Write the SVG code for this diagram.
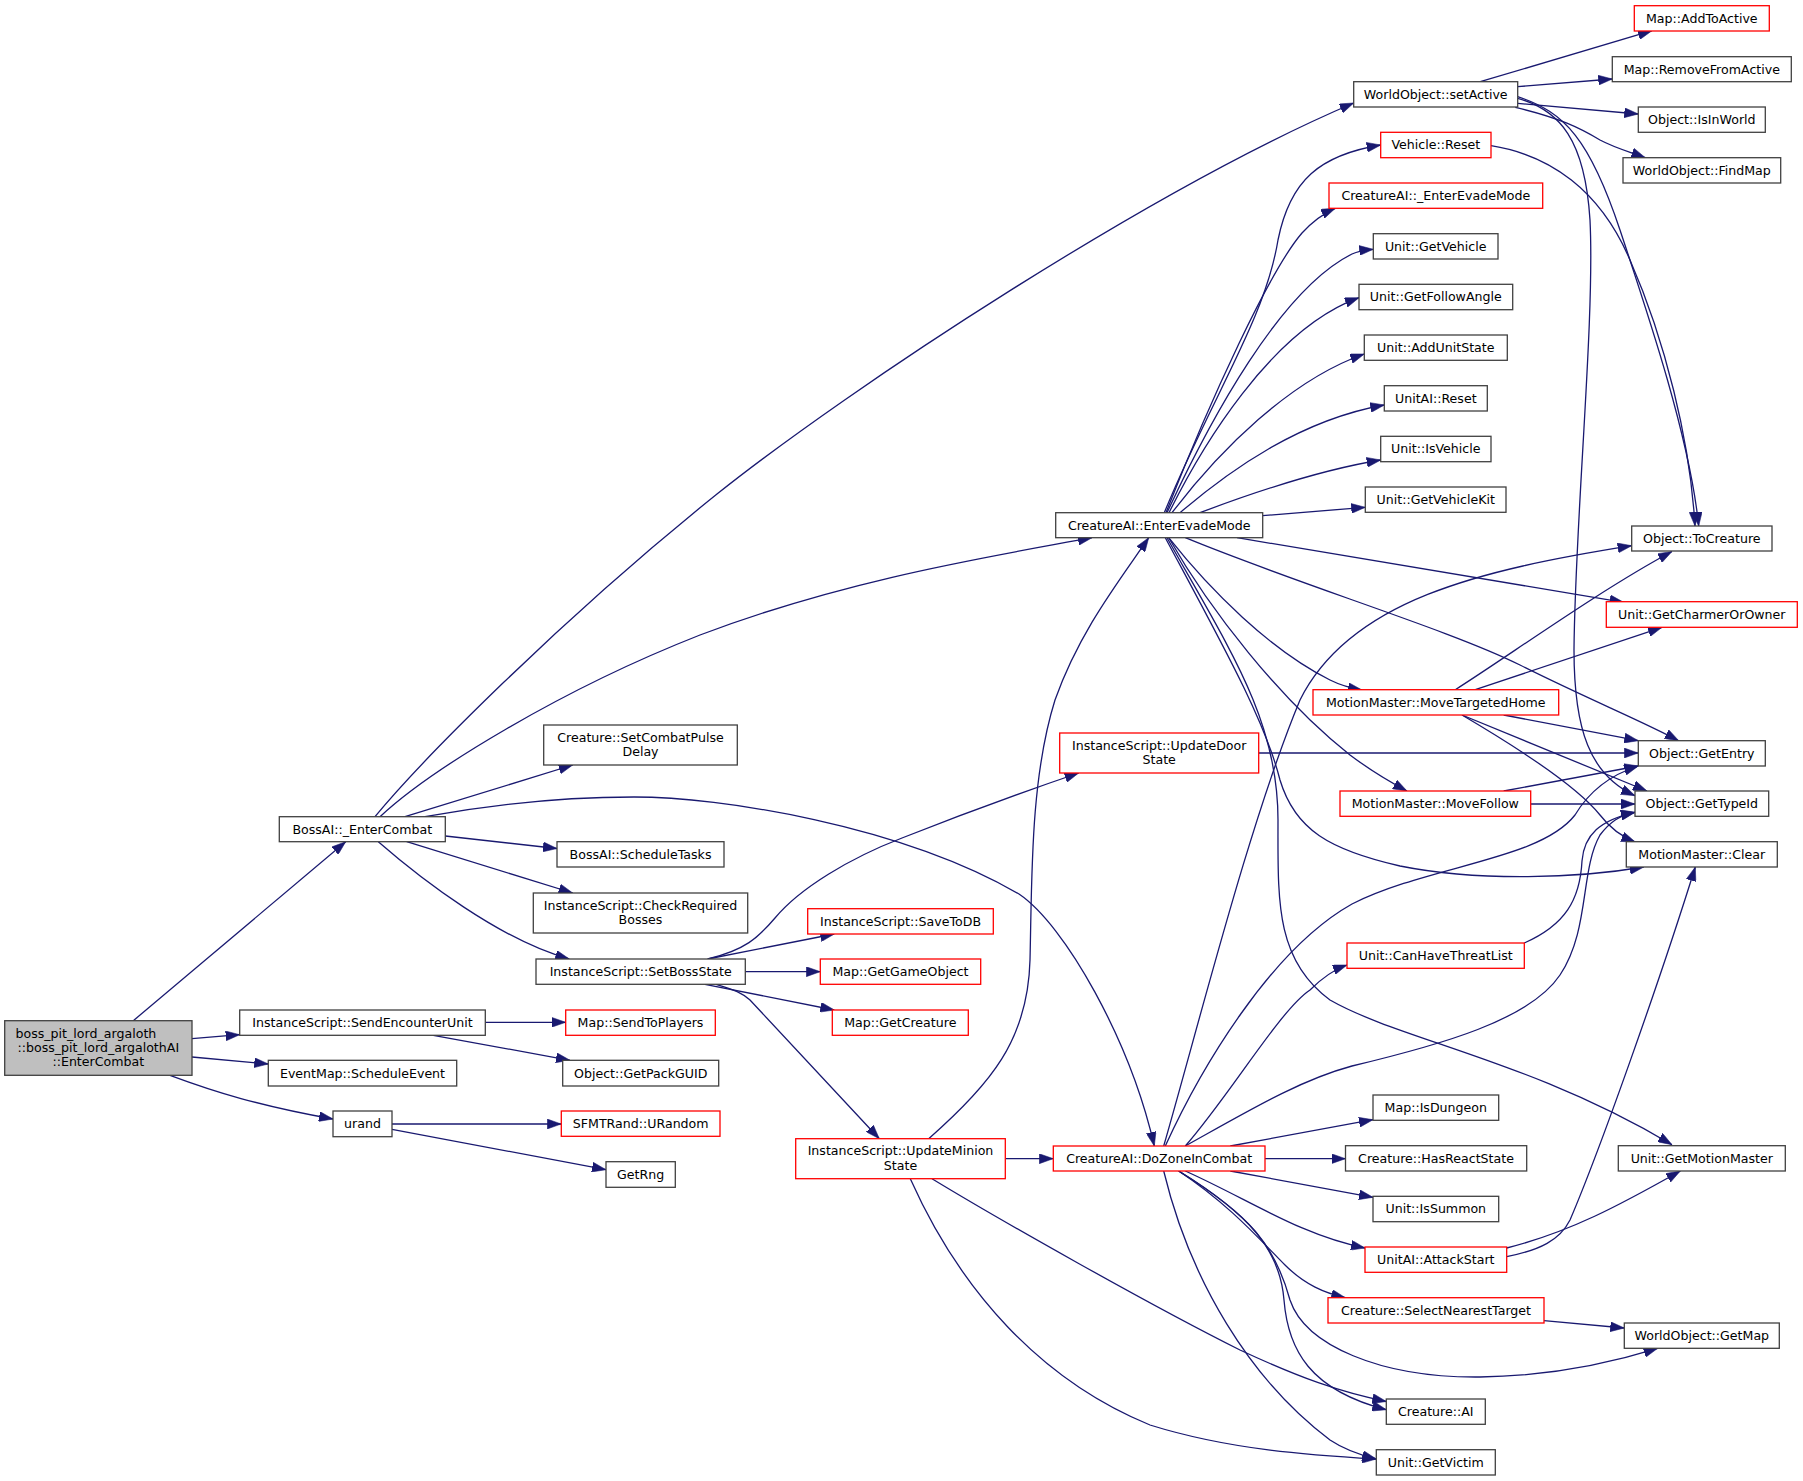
<svg xmlns="http://www.w3.org/2000/svg" width="1803" height="1481" viewBox="0 0 1803 1481">
<style>
.n rect{fill:#ffffff;stroke:#404040;stroke-width:1.3}
.n.r rect{stroke:#ff0000}
.n.root rect{fill:#bfbfbf}
text{font-family:"DejaVu Sans","Liberation Sans",sans-serif;font-size:12.6px;text-anchor:middle;fill:#000}
.e path{fill:none;stroke:#191970;stroke-width:1.3;marker-end:url(#arr)}
</style>
<defs>
<marker id="arr" markerUnits="userSpaceOnUse" markerWidth="14" markerHeight="10" viewBox="0 0 13.3 9.4" refX="13.3" refY="4.7" orient="auto">
<path d="M0,0 L13.3,4.7 L0,9.4 z" fill="#191970" stroke="#191970" stroke-width="0.5"/>
</marker>
</defs>
<rect x="0" y="0" width="1803" height="1481" fill="#ffffff"/>
<g id="edges" class="e">
<path d="M133.3,1020.7 L345.7,841.7"/>
<path d="M192,1038.7 L239.7,1034.7"/>
<path d="M192,1057 L268.3,1064"/>
<path d="M170,1075.3 C215,1092 260,1106 333,1119"/>
<path d="M485.3,1022.3 L565.7,1022.3"/>
<path d="M433.3,1035.3 L570,1060.3"/>
<path d="M392,1124 L561.3,1124"/>
<path d="M392,1129.3 L606,1169.7"/>
<path d="M375,816.7 C420,762 560,620 717,494 C850,388 1150,190 1353.7,103"/>
<path d="M380,816.7 C430,770 560,690 700,635 C850,578 1000,555 1092,537.7"/>
<path d="M405,816.7 L572.7,765"/>
<path d="M425,816.7 C500,803 570,797 634,797 C720,797 900,825 1019,894 C1065,925 1130,1040 1154.3,1146"/>
<path d="M445.3,836 L557,848.5"/>
<path d="M406.7,841.7 L572.7,893"/>
<path d="M378.3,841.7 C420,878 500,940 569.3,959"/>
<path d="M707.7,959 L834.3,934"/>
<path d="M745.3,971.7 L820.3,971.7"/>
<path d="M705,984.3 L834.3,1010"/>
<path d="M716,984.3 C735,990 742,993 750,1000 L879.3,1138.7"/>
<path d="M707.7,959 C745,950 758,938 775,918 C800,888 850,858 902,838 C960,815 1020,793 1078.7,773"/>
<path d="M1005.3,1158.7 L1053.3,1158.7"/>
<path d="M928.7,1138.7 C990,1085 1028,1040 1030,960 C1032,880 1030,780 1055,700 C1080,630 1120,580 1148.7,537.7"/>
<path d="M932,1178.7 C1000,1220 1150,1305 1240,1350 C1300,1378 1340,1392 1386.3,1401.5"/>
<path d="M910.3,1178.7 C960,1290 1040,1380 1150,1425 C1230,1450 1310,1455 1376.3,1459"/>
<path d="M1258.7,753 L1638.3,753"/>
<path d="M1164.3,512.7 C1210,400 1265,320 1278,240 C1290,180 1320,155 1380.7,145"/>
<path d="M1166,512.7 C1210,400 1270,270 1302,233 C1312,222 1322,214 1335.3,208.3"/>
<path d="M1167,512.7 C1210,420 1280,290 1352,254 C1358,251 1365,250 1373.3,249.3"/>
<path d="M1169,512.7 C1200,450 1270,330 1359,297.7"/>
<path d="M1172,512.7 C1220,450 1290,380 1364.3,354"/>
<path d="M1180,512.7 C1230,470 1300,420 1384.3,405"/>
<path d="M1200,512.7 C1260,490 1320,470 1380.7,460"/>
<path d="M1262.7,515.7 L1365.3,507.3"/>
<path d="M1237,537.7 L1623.7,602.3"/>
<path d="M1185.3,537.7 C1300,585 1450,630 1520,665 C1590,700 1640,720 1678.7,740.7"/>
<path d="M1168.7,537.7 C1210,590 1270,650 1330,680 C1340,685 1350,688 1362,690"/>
<path d="M1168.7,537.7 C1210,610 1280,700 1350,755 C1370,770 1390,782 1407,791"/>
<path d="M1165.3,537.7 C1220,640 1265,720 1280,780 C1295,830 1330,850 1400,866 C1480,882 1580,878 1643.7,867"/>
<path d="M1167,537.7 C1230,650 1278,720 1278,820 C1278,900 1275,960 1330,1000 C1400,1040 1530,1060 1672,1144.7"/>
<path d="M1480.3,81.7 L1652,30.7"/>
<path d="M1517.7,86.7 L1612.3,79"/>
<path d="M1517.7,103.3 L1638.3,114"/>
<path d="M1515.3,107.3 C1560,118 1580,128 1600,140 C1615,148 1630,152 1645.3,157.7"/>
<path d="M1517.7,98.3 C1560,110 1585,140 1590,220 C1595,320 1575,520 1574,650 C1574,730 1590,775 1635,795.7"/>
<path d="M1517.7,96.7 C1565,112 1590,140 1620,230 C1650,320 1690,440 1698.7,526"/>
<path d="M1491,145.7 C1550,155 1600,190 1630,260 C1665,340 1690,440 1695,526"/>
<path d="M1455.3,689.7 C1510,655 1600,590 1672,551.5"/>
<path d="M1475.3,689.7 L1662,627.3"/>
<path d="M1503.7,715 L1638.3,740.7"/>
<path d="M1462,715 L1647,791"/>
<path d="M1462,715 C1530,755 1580,790 1600,815 C1610,828 1620,836 1635.3,842"/>
<path d="M1503.7,791 L1638.3,766"/>
<path d="M1530.7,804 L1635,804"/>
<path d="M1524.3,943 C1565,925 1580,900 1582,861 C1584,835 1600,820 1635,812.3"/>
<path d="M1163.7,1146 C1200,1020 1250,820 1300,700 C1350,600 1480,570 1631.7,545.7"/>
<path d="M1165.3,1146 C1200,1070 1270,950 1352,904 C1430,865 1540,860 1575,815 C1590,790 1610,775 1638.3,766"/>
<path d="M1185.3,1146 C1230,1095 1280,1010 1310,990 C1320,980 1333,970 1347,965"/>
<path d="M1185.3,1146 C1250,1110 1300,1080 1352,1066 C1440,1045 1530,1020 1560,975 C1590,930 1580,870 1600,835 C1610,822 1620,815 1635,812.3"/>
<path d="M1230.3,1146 L1373,1119.7"/>
<path d="M1265,1158.7 L1345.5,1158.7"/>
<path d="M1230.3,1171 L1373,1197.3"/>
<path d="M1185.3,1171 C1250,1200 1300,1235 1365,1248"/>
<path d="M1178.7,1171 C1230,1205 1260,1240 1285,1265 C1305,1285 1325,1293 1345.3,1297.7"/>
<path d="M1178.7,1171 C1250,1215 1275,1245 1290,1300 C1305,1345 1380,1378 1480,1377 C1560,1376 1620,1360 1657.7,1348.3"/>
<path d="M1178.7,1171 C1250,1215 1280,1250 1284,1300 C1288,1350 1310,1390 1386.3,1409.7"/>
<path d="M1163.7,1171 C1190,1280 1250,1380 1330,1440 C1345,1450 1360,1455 1376.3,1459"/>
<path d="M1506.7,1248 C1570,1232 1620,1205 1680.3,1171"/>
<path d="M1506.7,1256.7 C1540,1250 1560,1240 1570,1220 C1600,1150 1660,980 1695.3,867"/>
<path d="M1544,1320.7 L1624.3,1328"/>
</g>
<g id="root" class="n root"><rect x="4.7" y="1020.7" width="187.3" height="54.6"/><text x="15.5" y="1037.5" style="text-anchor:start">boss_pit_lord_argaloth</text><text x="98.3" y="1051.7">::boss_pit_lord_argalothAI</text><text x="98.3" y="1066">::EnterCombat</text></g>
<g id="bossEnterCombat" class="n"><rect x="279.3" y="816.7" width="166" height="25"/><text x="362.3" y="833.5">BossAI::_EnterCombat</text></g>
<g id="sendEncounterUnit" class="n"><rect x="239.7" y="1010" width="245.6" height="25.3"/><text x="362.5" y="1027">InstanceScript::SendEncounterUnit</text></g>
<g id="scheduleEvent" class="n"><rect x="268.3" y="1060.3" width="188.4" height="25.7"/><text x="362.5" y="1077.5">EventMap::ScheduleEvent</text></g>
<g id="urand" class="n"><rect x="333" y="1111" width="59" height="25.7"/><text x="362.5" y="1128">urand</text></g>
<g id="sendToPlayers" class="n r"><rect x="565.7" y="1010" width="149.6" height="25.3"/><text x="640.5" y="1027">Map::SendToPlayers</text></g>
<g id="getPackGUID" class="n"><rect x="562.7" y="1060.3" width="156" height="25.7"/><text x="640.7" y="1077.5">Object::GetPackGUID</text></g>
<g id="urandom" class="n r"><rect x="561.3" y="1111" width="158.7" height="25.3"/><text x="640.7" y="1128">SFMTRand::URandom</text></g>
<g id="getRng" class="n"><rect x="606" y="1161.7" width="69.3" height="25.6"/><text x="640.7" y="1178.8">GetRng</text></g>
<g id="setCombatPulseDelay" class="n"><rect x="543.7" y="725" width="193.6" height="40"/><text x="640.5" y="741.5">Creature::SetCombatPulse</text><text x="640.5" y="756">Delay</text></g>
<g id="scheduleTasks" class="n"><rect x="557" y="841.7" width="167" height="25.3"/><text x="640.5" y="858.6">BossAI::ScheduleTasks</text></g>
<g id="checkRequiredBosses" class="n"><rect x="533.3" y="893" width="214.4" height="40"/><text x="640.5" y="909.5">InstanceScript::CheckRequired</text><text x="640.5" y="924">Bosses</text></g>
<g id="setBossState" class="n"><rect x="536" y="959" width="209.3" height="25.3"/><text x="640.7" y="976">InstanceScript::SetBossState</text></g>
<g id="saveToDB" class="n r"><rect x="807.7" y="908.7" width="185.6" height="25.3"/><text x="900.5" y="925.6">InstanceScript::SaveToDB</text></g>
<g id="getGameObject" class="n r"><rect x="820.3" y="959" width="160.4" height="25.3"/><text x="900.5" y="976">Map::GetGameObject</text></g>
<g id="getCreature" class="n r"><rect x="832.3" y="1010" width="136" height="25.3"/><text x="900.3" y="1027">Map::GetCreature</text></g>
<g id="updateMinionState" class="n r"><rect x="795.7" y="1138.7" width="209.6" height="40"/><text x="900.5" y="1155">InstanceScript::UpdateMinion</text><text x="900.5" y="1169.5">State</text></g>
<g id="updateDoorState" class="n r"><rect x="1059.7" y="733" width="199" height="40"/><text x="1159.2" y="749.5">InstanceScript::UpdateDoor</text><text x="1159.2" y="764">State</text></g>
<g id="enterEvadeMode" class="n"><rect x="1055.7" y="512.7" width="207" height="25"/><text x="1159.2" y="529.5">CreatureAI::EnterEvadeMode</text></g>
<g id="doZoneInCombat" class="n r"><rect x="1053.3" y="1146" width="211.7" height="25"/><text x="1159.2" y="1162.8">CreatureAI::DoZoneInCombat</text></g>
<g id="setActive" class="n"><rect x="1353.7" y="81.7" width="164" height="25.3"/><text x="1435.7" y="98.6">WorldObject::setActive</text></g>
<g id="addToActive" class="n r"><rect x="1634.3" y="5.7" width="135" height="25.3"/><text x="1701.8" y="22.6">Map::AddToActive</text></g>
<g id="removeFromActive" class="n"><rect x="1612.3" y="56.7" width="179" height="25"/><text x="1701.8" y="73.5">Map::RemoveFromActive</text></g>
<g id="isInWorld" class="n"><rect x="1638.3" y="107" width="127" height="25.3"/><text x="1701.8" y="124">Object::IsInWorld</text></g>
<g id="vehicleReset" class="n r"><rect x="1380.7" y="132.3" width="110.3" height="25.4"/><text x="1435.8" y="149.3">Vehicle::Reset</text></g>
<g id="findMap" class="n"><rect x="1623" y="157.7" width="157.7" height="25.3"/><text x="1701.8" y="174.6">WorldObject::FindMap</text></g>
<g id="_enterEvadeMode" class="n r"><rect x="1329" y="183" width="213.7" height="25.3"/><text x="1435.8" y="200">CreatureAI::_EnterEvadeMode</text></g>
<g id="getVehicle" class="n"><rect x="1373.3" y="233.7" width="124.7" height="25.3"/><text x="1435.7" y="250.6">Unit::GetVehicle</text></g>
<g id="getFollowAngle" class="n"><rect x="1359" y="284.3" width="153.7" height="25.4"/><text x="1435.8" y="301.3">Unit::GetFollowAngle</text></g>
<g id="addUnitState" class="n"><rect x="1364.3" y="335" width="143" height="25.3"/><text x="1435.8" y="352">Unit::AddUnitState</text></g>
<g id="unitAIReset" class="n"><rect x="1384.3" y="385.7" width="103" height="25.3"/><text x="1435.8" y="402.6">UnitAI::Reset</text></g>
<g id="isVehicle" class="n"><rect x="1380.7" y="436.3" width="110.3" height="25.4"/><text x="1435.8" y="453.3">Unit::IsVehicle</text></g>
<g id="getVehicleKit" class="n"><rect x="1365.3" y="487" width="140.7" height="25.3"/><text x="1435.7" y="504">Unit::GetVehicleKit</text></g>
<g id="toCreature" class="n"><rect x="1631.7" y="526" width="140.3" height="25"/><text x="1701.8" y="542.8">Object::ToCreature</text></g>
<g id="getCharmerOrOwner" class="n r"><rect x="1606.3" y="601.7" width="191" height="25.6"/><text x="1701.8" y="618.8">Unit::GetCharmerOrOwner</text></g>
<g id="moveTargetedHome" class="n r"><rect x="1313" y="689.7" width="245.7" height="25.3"/><text x="1435.8" y="706.6">MotionMaster::MoveTargetedHome</text></g>
<g id="getEntry" class="n"><rect x="1638.3" y="740.7" width="127" height="25.3"/><text x="1701.8" y="757.6">Object::GetEntry</text></g>
<g id="moveFollow" class="n r"><rect x="1340" y="791" width="190.7" height="25.3"/><text x="1435.3" y="808">MotionMaster::MoveFollow</text></g>
<g id="getTypeId" class="n"><rect x="1635" y="791" width="133.7" height="25.3"/><text x="1701.8" y="808">Object::GetTypeId</text></g>
<g id="motionMasterClear" class="n"><rect x="1626.3" y="841.7" width="151" height="25.3"/><text x="1701.8" y="858.6">MotionMaster::Clear</text></g>
<g id="canHaveThreatList" class="n r"><rect x="1347" y="943" width="177.3" height="25.3"/><text x="1435.7" y="960">Unit::CanHaveThreatList</text></g>
<g id="isDungeon" class="n"><rect x="1373" y="1095" width="125.7" height="25.3"/><text x="1435.8" y="1112">Map::IsDungeon</text></g>
<g id="hasReactState" class="n"><rect x="1345.5" y="1145.7" width="181.2" height="25.3"/><text x="1436" y="1162.6">Creature::HasReactState</text></g>
<g id="isSummon" class="n"><rect x="1373" y="1196.3" width="125.7" height="25.4"/><text x="1435.8" y="1213.3">Unit::IsSummon</text></g>
<g id="attackStart" class="n r"><rect x="1365" y="1247" width="141.7" height="25.3"/><text x="1435.8" y="1264">UnitAI::AttackStart</text></g>
<g id="selectNearestTarget" class="n r"><rect x="1328" y="1297.7" width="216" height="25.3"/><text x="1436" y="1314.6">Creature::SelectNearestTarget</text></g>
<g id="getMotionMaster" class="n"><rect x="1618.3" y="1145.7" width="167" height="25.3"/><text x="1701.8" y="1162.6">Unit::GetMotionMaster</text></g>
<g id="getMap" class="n"><rect x="1624.3" y="1323" width="155" height="25.3"/><text x="1701.8" y="1340">WorldObject::GetMap</text></g>
<g id="creatureAI" class="n"><rect x="1386.3" y="1399" width="99" height="25.3"/><text x="1435.8" y="1416">Creature::AI</text></g>
<g id="getVictim" class="n"><rect x="1376.3" y="1449.7" width="119" height="25.3"/><text x="1435.8" y="1466.6">Unit::GetVictim</text></g>
</svg>
